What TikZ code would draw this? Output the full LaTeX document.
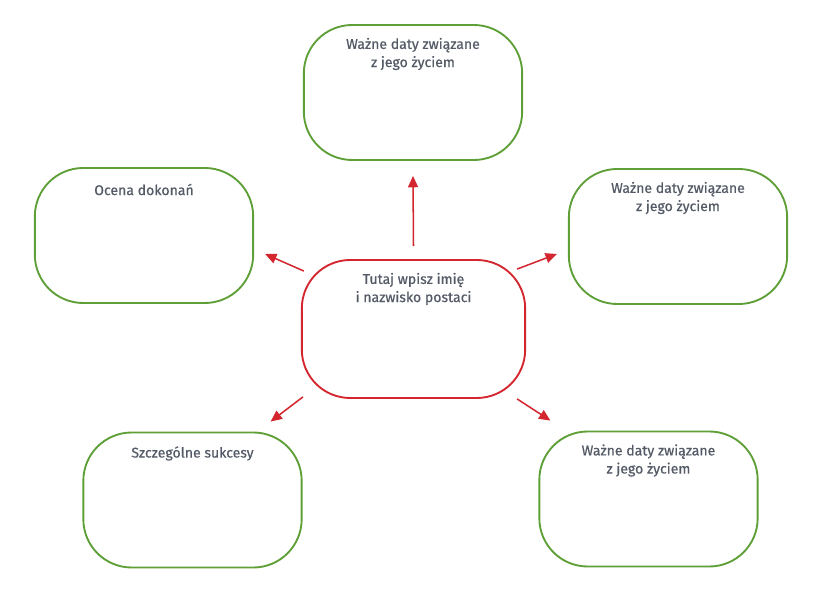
\documentclass[tikz,border=0pt]{standalone}
\usepackage{fontspec}
\setmainfont{Fira Sans}
\usepackage{tikz}
\usetikzlibrary{arrows.meta, positioning}
\definecolor{boxgreen}{HTML}{5E9F37}
\definecolor{boxred}{HTML}{D3262E}
\definecolor{txtgray}{HTML}{545A66}

\begin{document}
\begin{tikzpicture}[
    x=0.03cm, y=-0.03cm,
    bubble/.style={draw=boxgreen, line width=1.6pt, rounded corners=1.45cm,
                   minimum width=6.55cm, minimum height=4.05cm},
    centre/.style={bubble, draw=boxred, minimum width=6.7cm, minimum height=4.14cm},
    caption/.style={align=center, anchor=base, inner sep=0pt, text=txtgray,
                    font=\fontsize{12}{15.5}\selectfont\addfontfeature{FakeBold=0.6}},
    arr/.style={-{Triangle[length=3.4mm, width=3mm]}, draw=boxred, line width=1.3pt},
]
  \useasboundingbox (0,0) rectangle (832,601);

  \node[centre] (c)  at (413.5,329) {};
  \node[bubble] (t)  at (413,92.5)  {};
  \node[bubble] (l)  at (144,235.5) {};
  \node[bubble] (r)  at (678,236.5) {};
  \node[bubble] (bl) at (192.5,500) {};
  \node[bubble] (br) at (648.5,499) {};

  % base anchor sits on the last line
  \node[caption] (ctxt)  at ([shift={(0,43)}]c.north)  {Tutaj wpisz imię\\i nazwisko postaci};
  \node[caption] (ttxt)  at ([shift={(0,43)}]t.north)  {Ważne daty związane\\z jego życiem};
  \node[caption] (ltxt)  at ([shift={(0,28)}]l.north)  {Ocena dokonań};
  \node[caption] (rtxt)  at ([shift={(0,43)}]r.north)  {Ważne daty związane\\z jego życiem};
  \node[caption] (bltxt) at ([shift={(0,26)}]bl.north) {Szczególne sukcesy};
  \node[caption] (brtxt) at ([shift={(0,43)}]br.north) {Ważne daty związane\\z jego życiem};

  \draw[arr] ([shift={(0,-13)}]c.north) -- ([shift={(0,15)}]t.south);
  \draw[arr] ([shift={(3,12)}]c.north west) -- ([shift={(11,18.5)}]l.east);
  \draw[arr] ([shift={(-9,10)}]c.north east) -- ([shift={(-11,17.5)}]r.west);
  \draw[arr] ([shift={(2,-2)}]c.south west) -- ([shift={(-32,-10)}]bl.north east);
  \draw[arr] ([shift={(-9,0)}]c.south east) -- ([shift={(12,-10)}]br.north west);
\end{tikzpicture}
\end{document}
